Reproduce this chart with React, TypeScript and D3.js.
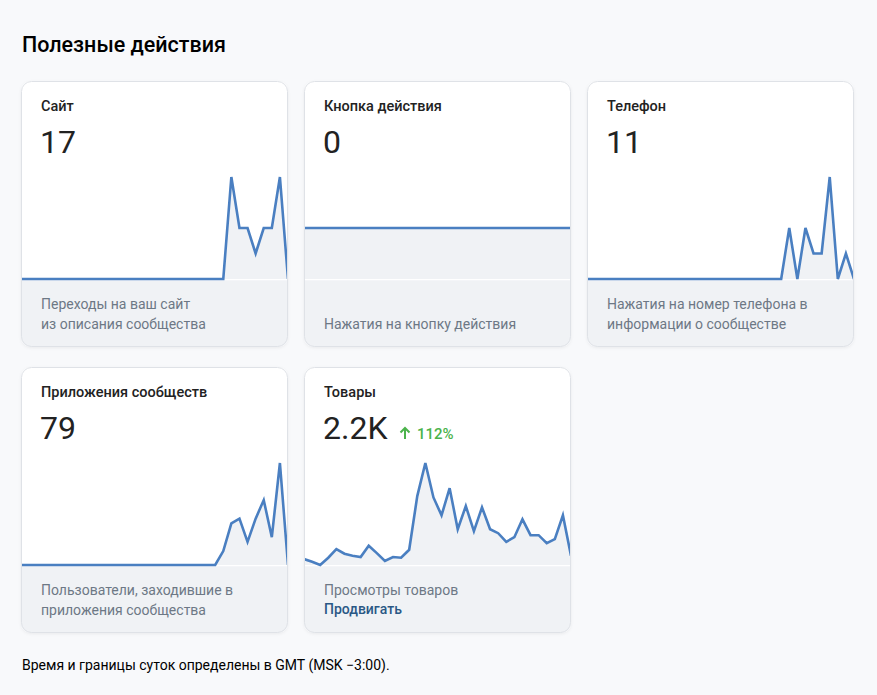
import * as d3 from "d3";

// daily values, 34 days each
const siteClicks = [0, 0, 0, 0, 0, 0, 0, 0, 0, 0, 0, 0, 0, 0, 0, 0, 0, 0, 0, 0, 0, 0, 0, 0, 0, 0, 4, 2, 2, 1, 2, 2, 4, 0];
const actionButton = [0, 0, 0, 0, 0, 0, 0, 0, 0, 0, 0, 0, 0, 0, 0, 0, 0, 0, 0, 0, 0, 0, 0, 0, 0, 0, 0, 0, 0, 0, 0, 0, 0, 0];
const phoneClicks = [0, 0, 0, 0, 0, 0, 0, 0, 0, 0, 0, 0, 0, 0, 0, 0, 0, 0, 0, 0, 0, 0, 0, 0, 0, 2, 0, 2, 1, 1, 4, 0, 1, 0];
const appUsers = [0, 0, 0, 0, 0, 0, 0, 0, 0, 0, 0, 0, 0, 0, 0, 0, 0, 0, 0, 0, 0, 0, 0, 0, 0, 3, 9, 10, 5, 10, 14, 6, 22, 0];
const productViews = [29, 25, 20, 31, 44, 37, 34, 32, 49, 38, 26, 32, 31, 43, 124, 174, 122, 95, 136, 74, 109, 71, 107, 74, 68, 55, 62, 89, 65, 65, 53, 59, 95, 34];

const cardTitles = ["Сайт", "Кнопка действия", "Телефон", "Приложения сообществ", "Товары"];
const cardTotals = ["17", "0", "11", "79", "2.2K"];
const cardNotes = [
  ["Переходы на ваш сайт", "из описания сообщества"],
  ["Нажатия на кнопку действия"],
  ["Нажатия на номер телефона в", "информации о сообществе"],
  ["Пользователи, заходившие в", "приложения сообщества"],
  ["Просмотры товаров"],
];
const cardSeries = [siteClicks, actionButton, phoneClicks, appUsers, productViews];

const W = 877;
const H = 695;
const cardW = 267;
const cardH = 266;
const colX = [21, 304, 587];
const rowY = [81, 367];
const font = "Roboto, 'Noto Sans', sans-serif";
const lineColor = "#4a7fc1";

function Card({ i }: { i: number }) {
  const x0 = colX[i % 3];
  const y0 = rowY[Math.floor(i / 3)];
  const values = cardSeries[i];
  const top = y0 + 96;
  const bottom = y0 + 198;

  const xScale = d3.scaleLinear().domain([0, values.length - 1]).range([x0, x0 + cardW]);
  const ext = d3.extent(values) as [number, number];
  const yScale = d3.scaleLinear().domain(ext).range([bottom, top]);

  const line = d3
    .line<number>()
    .x((_, k) => xScale(k))
    .y((d) => yScale(d));
  const area = d3
    .area<number>()
    .x((_, k) => xScale(k))
    .y0(bottom)
    .y1((d) => yScale(d));

  const notes = cardNotes[i];
  const clipId = `clip-${i}`;

  return (
    <g>
      <defs>
        <clipPath id={clipId}>
          <rect x={x0} y={y0} width={cardW} height={cardH} rx={10} />
        </clipPath>
      </defs>
      <rect x={x0} y={y0} width={cardW} height={cardH} rx={10} fill="#fff" filter="url(#shadow)" />
      <g clipPath={`url(#${clipId})`}>
        <rect x={x0} y={bottom + 1} width={cardW} height={cardH} fill="#f0f2f5" />
        <line x1={x0} x2={x0 + cardW} y1={bottom + 1.5} y2={bottom + 1.5} stroke="#f4f5f8" />
        <path d={area(values)!} fill="#f0f2f5" />
        <path d={line(values)!} fill="none" stroke={lineColor} strokeWidth={2.6} strokeLinejoin="miter" />
      </g>
      <rect x={x0 + 0.5} y={y0 + 0.5} width={cardW - 1} height={cardH - 1} rx={10} fill="none" stroke="#dfe2e7" />

      <text x={x0 + 20} y={y0 + 30} fontSize={14.5} fontWeight={500} fill="#222">
        {cardTitles[i]}
      </text>
      <text x={x0 + 19} y={y0 + 72} fontSize={32} fontWeight={400} fill="#222">
        {cardTotals[i]}
      </text>
      {i === 4 && (
        <g>
          <path
            d={`M${x0 + 101} ${y0 + 72} V${y0 + 61} M${x0 + 96.5} ${y0 + 65.5} L${x0 + 101} ${y0 + 61} L${x0 + 105.5} ${y0 + 65.5}`}
            fill="none"
            stroke="#4bb34b"
            strokeWidth={2}
          />
          <text x={x0 + 113} y={y0 + 72} fontSize={15} fontWeight={500} fill="#4bb34b">
            112%
          </text>
        </g>
      )}
      {notes.map((t, k) => (
        <text
          key={k}
          x={x0 + 20}
          y={y0 + 248 - (notes.length - 1 - k) * 20 - (i === 4 ? 20 : 0)}
          fontSize={14}
          fill="#6d7885"
        >
          {t}
        </text>
      ))}
      {i === 4 && (
        <text x={x0 + 20} y={y0 + 247} fontSize={14} fontWeight={500} fill="#2a5885">
          Продвигать
        </text>
      )}
    </g>
  );
}

export default function App() {
  return (
    <svg
      width={W}
      height={H}
      viewBox={`0 0 ${W} ${H}`}
      style={{ position: "absolute", left: 0, top: 0, fontFamily: font }}
    >
      <defs>
        <filter id="shadow" x="-10%" y="-10%" width="120%" height="120%">
          <feDropShadow dx={0} dy={1} stdDeviation={1.5} floodColor="#000" floodOpacity={0.06} />
        </filter>
      </defs>
      <rect width={W} height={H} fill="#f8f9fb" />
      <text x={22} y={52} fontSize={21.5} fontWeight={500} fill="#000">
        Полезные действия
      </text>
      {cardSeries.map((_, i) => (
        <Card key={i} i={i} />
      ))}
      <text x={22} y={670} fontSize={14} fill="#000">
        Время и границы суток определены в GMT (MSK −3:00).
      </text>
    </svg>
  );
}
